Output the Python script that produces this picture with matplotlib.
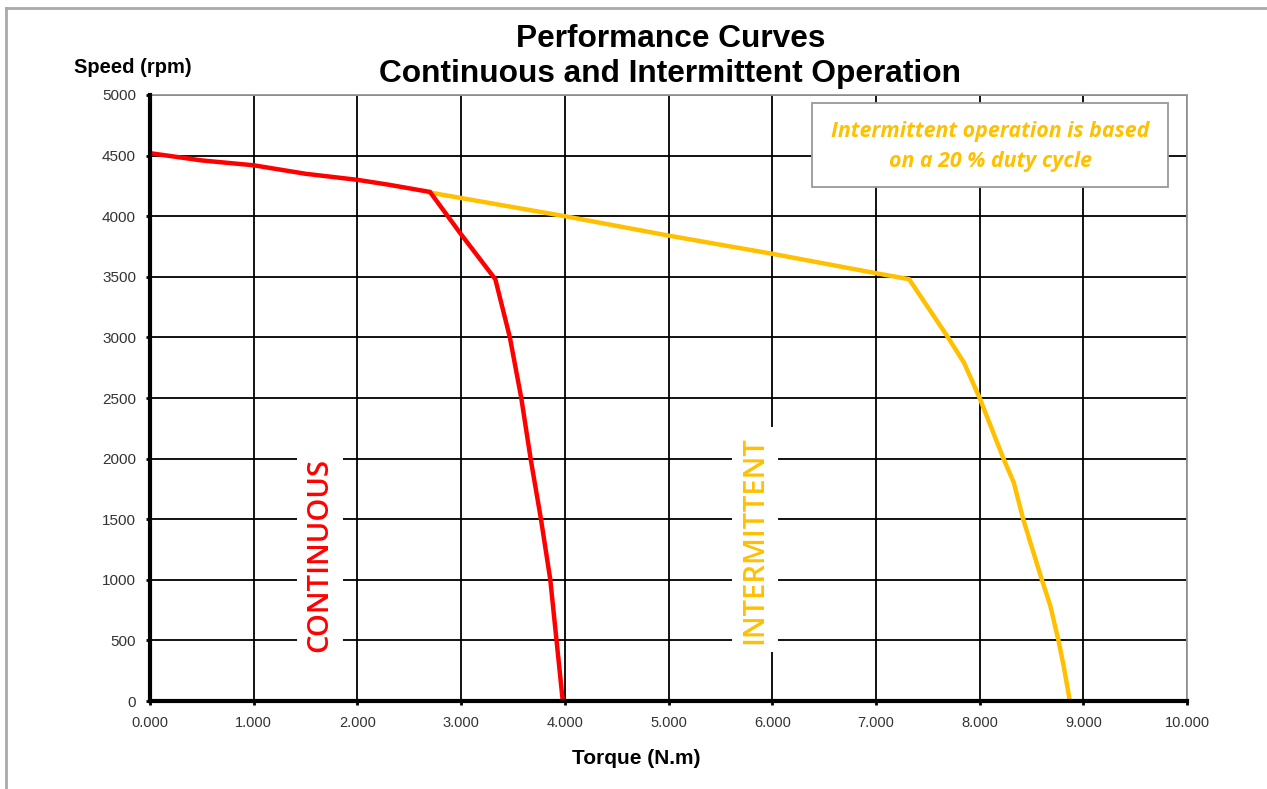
import numpy as np
import matplotlib.pyplot as plt
from matplotlib.lines import Line2D
from matplotlib.patches import Rectangle

# continuous curve (torque N.m, speed rpm)
cont_torque = [0.0, 0.5, 1.0, 1.5, 2.0, 2.3, 2.7, 3.0, 3.33, 3.47, 3.58, 3.67, 3.77, 3.86, 3.92, 3.98]
cont_speed = [4520, 4460, 4420, 4350, 4300, 4260, 4200, 3850, 3480, 3000, 2500, 2000, 1500, 1000, 500, 0]

# intermittent curve
int_torque = [2.7, 4.0, 5.0, 6.0, 7.0, 7.32, 7.68, 7.85, 8.0, 8.23, 8.33, 8.42, 8.60, 8.68, 8.76, 8.81, 8.87]
int_speed = [4195, 4000, 3840, 3690, 3530, 3480, 3020, 2790, 2500, 2000, 1800, 1500, 1000, 790, 500, 290, 0]

xticks = np.arange(0, 11, 1)
yticks = np.arange(0, 5001, 500)

red = '#FF0000'
gold = '#FFC000'

fig = plt.figure(figsize=(12.67, 7.89), dpi=100)
ax = fig.add_axes([0.1184, 0.1115, 0.8185, 0.7681])

ax.plot(int_torque, int_speed, color=gold, lw=3.2, zorder=4, solid_joinstyle='miter')
ax.plot(cont_torque, cont_speed, color=red, lw=3.2, zorder=5, solid_joinstyle='miter')

ax.set_xlim(0, 10)
ax.set_ylim(0, 5000)
ax.set_xticks(xticks)
ax.set_yticks(yticks)
ax.set_xticklabels(['%.3f' % v for v in xticks], fontsize=10.5, color='#333333', family='Liberation Sans')
ax.set_yticklabels([str(v) for v in yticks], fontsize=11, color='#333333', family='Liberation Sans')
ax.grid(True, color='black', lw=1.3, zorder=1)
ax.set_axisbelow(True)
ax.tick_params(axis='both', direction='out', length=3, width=2, color='black')
ax.tick_params(axis='x', pad=8)
ax.tick_params(axis='y', pad=7)

for s in ['top', 'right']:
    ax.spines[s].set_color('#999999')
    ax.spines[s].set_linewidth(1.3)
for s in ['left', 'bottom']:
    ax.spines[s].set_color('black')
    ax.spines[s].set_linewidth(3)
    ax.spines[s].set_zorder(6)

# titles
fig.text(0.529, 0.951, 'Performance Curves', ha='center', va='center',
         fontsize=22.8, fontweight='bold', family='Liberation Sans')
fig.text(0.529, 0.906, 'Continuous and Intermittent Operation', ha='center', va='center',
         fontsize=22.8, fontweight='bold', family='Liberation Sans')
fig.text(0.1045, 0.914, 'Speed (rpm)', ha='center', va='center',
         fontsize=14.5, fontweight='bold', family='Liberation Sans')
fig.text(0.502, 0.039, 'Torque (N.m)', ha='center', va='center',
         fontsize=15, fontweight='bold', family='Liberation Sans')

# curve labels
ax.text(1.64, 1205, 'CONTINUOUS', rotation=90, ha='center', va='center', color=red,
        fontsize=21, fontweight='semibold', family='Open Sans', zorder=3,
        bbox=dict(facecolor='white', edgecolor='none', pad=6))
ax.text(5.83, 1330, 'INTERMITTENT', rotation=90, ha='center', va='center', color=gold,
        fontsize=21, fontweight='semibold', family='Open Sans', zorder=3,
        bbox=dict(facecolor='white', edgecolor='none', pad=6))

# note box
ax.add_patch(Rectangle((6.384, 4241), 3.433, 693, facecolor='white', edgecolor='#999999',
                       lw=1.3, zorder=7))
ax.text(8.1, 4575, 'Intermittent operation is based\non a 20 % duty cycle', ha='center', va='center',
        color=gold, fontsize=15.4, fontstyle='italic', fontweight='bold', family='Open Sans',
        linespacing=1.55, zorder=8)

# outer frame (top and left edges visible)
fig.add_artist(Line2D([0.0047, 1.0], [0.990, 0.990], color='#AAAAAA', lw=2, transform=fig.transFigure))
fig.add_artist(Line2D([0.0047, 0.0047], [0.0, 0.990], color='#AAAAAA', lw=2, transform=fig.transFigure))

fig.savefig('out.png', dpi=100)
